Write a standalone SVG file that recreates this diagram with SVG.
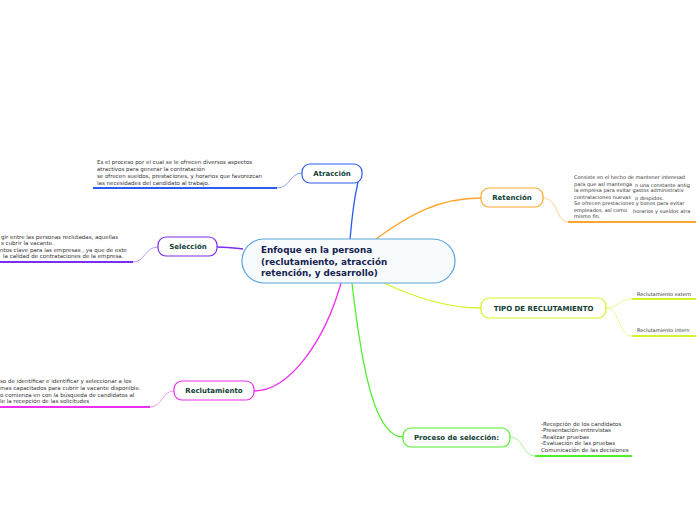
<svg xmlns="http://www.w3.org/2000/svg" width="696" height="520" viewBox="0 0 696 520">
<style>
.lbl{font-family:"DejaVu Sans",Verdana,sans-serif;font-weight:bold;font-size:7px;fill:#0f3d33;text-anchor:middle}
.ctr{font-family:"DejaVu Sans",Verdana,sans-serif;font-weight:bold;font-size:8.8px;fill:#14224f}
.d{font-family:"DejaVu Sans",Verdana,sans-serif;font-size:5.5px;fill:#333}
.r{font-family:"DejaVu Sans",Verdana,sans-serif;font-size:5px;fill:#333}
.n{fill:#fff;stroke-width:1.2}
.c{fill:none;stroke-width:1.3}
.s{fill:none;stroke-width:0.8}
.u{fill:none;stroke-width:2}
</style>
<rect width="696" height="520" fill="#fff"/>
<g id="connectors">
<path class="c" stroke="#2a5cf0" d="M350,240 C352,215 355,195 358,182"/>
<path class="c" stroke="#7a2ef0" d="M217,247 C230,247 235,248 243,249"/>
<path class="c" stroke="#ee2eee" d="M341,283 C325,340 290,391 254,391"/>
<path class="c" stroke="#ffa52e" d="M376,239 C410,214 440,198 481,198"/>
<path class="c" stroke="#d2f52a" d="M384,283 C420,300 450,308 481,308"/>
<path class="c" stroke="#4ff02a" d="M352,283 C362,370 375,437 403,437"/>
<path class="s" stroke="#6a8cf5" d="M302,173 C290,173 290,188 277,188"/>
<path class="u" stroke="#2a5cf0" d="M93,188 H277"/>
<path class="s" stroke="#a57af5" d="M158,247 C145,247 145,262 133,262"/>
<path class="u" stroke="#7a2ef0" d="M0,262 H133"/>
<path class="s" stroke="#f57af5" d="M174,391 C162,391 162,407 150,407"/>
<path class="u" stroke="#ee2eee" d="M0,407 H150"/>
<path class="s" stroke="#ffc77a" d="M543,198 C558,198 556,222 568,222"/>
<path class="u" stroke="#ffa52e" d="M568,222 H696"/>
<path class="s" stroke="#e2f77a" d="M606,308 C620,308 618,299 632,299"/>
<path class="s" stroke="#e2f77a" d="M606,308 C620,308 618,336 632,336"/>
<path class="u" stroke="#d2f52a" d="M632,299 H696"/>
<path class="u" stroke="#d2f52a" d="M632,336 H696"/>
<path class="s" stroke="#8ff57a" d="M510,437 C524,437 522,456 535,456"/>
<path class="u" stroke="#4ff02a" d="M535,456 H632"/>
</g>
<g id="central">
<rect x="242" y="239" width="213" height="44" rx="22" fill="#f8fbfd" stroke="#5aa5dc" stroke-width="1.2"/>
<text class="ctr" x="261" y="253">Enfoque en la persona</text>
<text class="ctr" x="261" y="265">(reclutamiento, atracción</text>
<text class="ctr" x="261" y="276">retención, y desarrollo)</text>
</g>
<g id="atraccion">
<rect class="n" x="302" y="164" width="60" height="19" rx="8" stroke="#2a5cf0"/>
<text class="lbl" x="332" y="176">Atracción</text>
<text class="d" x="97" y="164">Es el proceso por el cual se le ofrecen diversos aspectos</text>
<text class="d" x="97" y="171">atractivos para generar la contratación</text>
<text class="d" x="97" y="178">se ofrecen sueldos, prestaciones, y horarios que favorezcan</text>
<text class="d" x="97" y="185">las necesidades del candidato al trabajo.</text>
</g>
<g id="seleccion">
<rect class="n" x="158" y="237" width="59" height="19" rx="8" stroke="#7a2ef0"/>
<text class="lbl" x="188" y="249">Selección</text>
<text class="d" x="1" y="239">gir entre las personas reclutadas, aquellas</text>
<text class="d" x="1" y="245">s cubrir la vacante.</text>
<text class="d" x="0" y="252">ntos clave para las empresas , ya que de este</text>
<text class="d" x="3" y="258">la calidad de contrataciones de la empresa.</text>
</g>
<g id="reclutamiento">
<rect class="n" x="174" y="381" width="80" height="19" rx="8" stroke="#ee2eee"/>
<text class="lbl" x="214" y="393">Reclutamiento</text>
<text class="d" x="0" y="383">so de identificar e identificar y seleccionar a los</text>
<text class="d" x="0" y="390"> mas capacitados para cubrir la vacante disponible.</text>
<text class="d" x="0" y="397">o comienza en con la búsqueda de candidatos al</text>
<text class="d" x="0" y="403">le la recepción de las solicitudes</text>
</g>
<g id="retencion">
<rect class="n" x="481" y="188" width="62" height="19" rx="8" stroke="#ffa52e"/>
<text class="lbl" x="512" y="200">Retención</text>
<text class="r" x="574" y="179">Consiste en el hecho de mantener interesad</text>
<text class="r" x="574" y="185.5">para que así mantenga</text>
<text class="r" x="635" y="186.5">n una constante antig</text>
<text class="r" x="574" y="192">la empresa para evitar gastos administrativ</text>
<text class="r" x="574" y="198.5">contrataciones nuevas</text>
<text class="r" x="635" y="200">o despidos.</text>
<text class="r" x="574" y="205">Se ofrecen prestaciones y bonos para evitar</text>
<text class="r" x="574" y="211.5">empleados, así como</text>
<text class="r" x="633" y="212.5">horarios y sueldos atra</text>
<text class="r" x="574" y="218">mismo fin.</text>
</g>
<g id="tipo">
<rect class="n" x="481" y="298" width="125" height="20" rx="8" stroke="#d2f52a"/>
<text class="lbl" x="543.5" y="310.5">TIPO DE RECLUTAMIENTO</text>
<text class="r" x="637" y="296">Reclutamiento extern</text>
<text class="r" x="637" y="332">Reclutamiento intern</text>
</g>
<g id="proceso">
<rect class="n" x="403" y="428" width="107" height="19" rx="8" stroke="#4ff02a"/>
<text class="lbl" x="456.5" y="440">Proceso de selección:</text>
<text class="d" x="541" y="426">-Recepción de los candidatos</text>
<text class="d" x="541" y="432">-Presentación-entrevistas</text>
<text class="d" x="541" y="439">-Realizar pruebas</text>
<text class="d" x="541" y="445">-Evaluación de las pruebas</text>
<text class="d" x="541" y="452">Comunicación de las decisiones</text>
</g>
</svg>
